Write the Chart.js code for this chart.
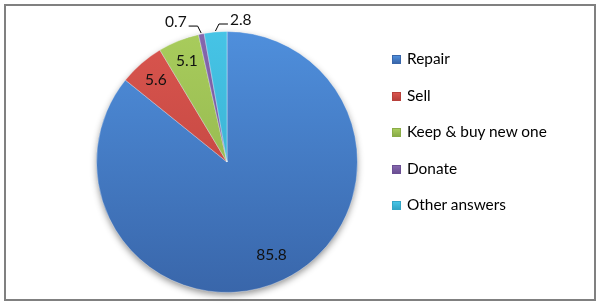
<!DOCTYPE html>
<html>
<head>
<meta charset="utf-8">
<script src="https://cdn.jsdelivr.net/npm/chart.js@4/dist/chart.umd.min.js"></script>
<style>
  html, body { margin: 0; padding: 0; background: #fff; }
  #wrap { position: relative; width: 599px; height: 305px; overflow: hidden; }
  #frame { position: absolute; left: 4px; top: 4px; width: 588px; height: 293px; border: 2px solid #808080; pointer-events: none; }
  canvas { position: absolute; left: 0; top: 0; }
  #legend { position: absolute; left: 392px; top: 49px; font-family: Lato, "Liberation Sans", sans-serif; font-size: 15.4px; color: #000; }
  .item { height: 36.5px; display: flex; align-items: flex-start; white-space: nowrap; }
  .box { width: 9px; height: 9px; margin-top: 6px; margin-right: 6px; box-sizing: border-box; }
</style>
</head>
<body>
<div id="wrap">
  <canvas id="c" width="599" height="305"></canvas>
  <div id="frame"></div>
  <div id="legend"></div>
</div>
<script>
const categories = ["Repair", "Sell", "Keep & buy new one", "Donate", "Other answers"];
const shares = [85.8, 5.6, 5.1, 0.7, 2.8];
const valueLabels = ["85.8", "5.6", "5.1", "0.7", "2.8"];

const topColors = ["#4f8fdc", "#d9554e", "#a8cc5c", "#8566ad", "#46c4e6"];
const bottomColors = ["#3966aa", "#b8403b", "#8aac48", "#6b4f93", "#33a6c6"];
const outsideSide = { 3: -1, 4: 1 };

function fillFor(ctx) {
  const i = ctx.dataIndex;
  const area = ctx.chart.chartArea;
  if (!area) return topColors[i];
  const g = ctx.chart.ctx.createLinearGradient(0, area.top, 0, area.bottom);
  g.addColorStop(0, topColors[i]);
  g.addColorStop(1, bottomColors[i]);
  return g;
}

const shadowPlugin = {
  id: 'pieShadow',
  beforeDatasetsDraw(chart) {
    const meta = chart.getDatasetMeta(0);
    if (!meta.data.length) return;
    const a = meta.data[0];
    const ctx = chart.ctx;
    ctx.save();
    ctx.shadowColor = 'rgba(0,0,0,0.45)';
    ctx.shadowBlur = 7;
    ctx.shadowOffsetY = 3;
    ctx.fillStyle = '#3966aa';
    ctx.beginPath();
    ctx.arc(a.x, a.y, a.outerRadius - 0.5, 0, Math.PI * 2);
    ctx.fill();
    ctx.restore();
  }
};

const labelPlugin = {
  id: 'sliceLabels',
  afterDatasetsDraw(chart) {
    const meta = chart.getDatasetMeta(0);
    const ctx = chart.ctx;
    ctx.save();
    ctx.font = '15.5px Lato, "Liberation Sans", sans-serif';
    ctx.fillStyle = '#111';
    ctx.strokeStyle = '#000';
    ctx.lineWidth = 1;
    meta.data.forEach((arc, i) => {
      const mid = (arc.startAngle + arc.endAngle) / 2;
      const r = arc.outerRadius;
      const cx = arc.x, cy = arc.y;
      if (outsideSide[i] === undefined) {
        const rr = i === 0 ? r * 0.79 : r * 0.83;
        ctx.textAlign = 'center';
        ctx.textBaseline = 'middle';
        ctx.fillText(valueLabels[i], cx + Math.cos(mid) * rr, cy + Math.sin(mid) * rr);
      } else {
        const side = outsideSide[i];
        const ax = cx + Math.cos(mid) * (r + 1);
        const ay = cy + Math.sin(mid) * (r + 1);
        const ex = ax + side * 3.5;
        const ey = ay - 7;
        const hx = ex + side * 9;
        ctx.beginPath();
        ctx.moveTo(ax, ay);
        ctx.lineTo(ex, ey);
        ctx.lineTo(hx, ey);
        ctx.stroke();
        ctx.textAlign = side < 0 ? 'right' : 'left';
        ctx.textBaseline = 'middle';
        ctx.fillText(valueLabels[i], hx + side * 2, ey - 4);
      }
    });
    ctx.restore();
  }
};

new Chart(document.getElementById('c'), {
  type: 'pie',
  data: {
    labels: categories,
    datasets: [{
      data: shares,
      backgroundColor: fillFor,
      borderColor: 'rgba(255,255,255,0.35)',
      borderWidth: 1
    }]
  },
  options: {
    responsive: false,
    animation: false,
    layout: { padding: { left: 96, right: 241, top: 31, bottom: 12 } },
    plugins: {
      legend: { display: false },
      tooltip: { enabled: false }
    }
  },
  plugins: [shadowPlugin, labelPlugin]
});

const legend = document.getElementById('legend');
categories.forEach((name, i) => {
  const item = document.createElement('div');
  item.className = 'item';
  const box = document.createElement('span');
  box.className = 'box';
  box.style.background = `linear-gradient(${topColors[i]}, ${bottomColors[i]})`;
  box.style.border = `1px solid ${bottomColors[i]}`;
  const txt = document.createElement('span');
  txt.textContent = name;
  item.appendChild(box);
  item.appendChild(txt);
  legend.appendChild(item);
});
</script>
</body>
</html>
